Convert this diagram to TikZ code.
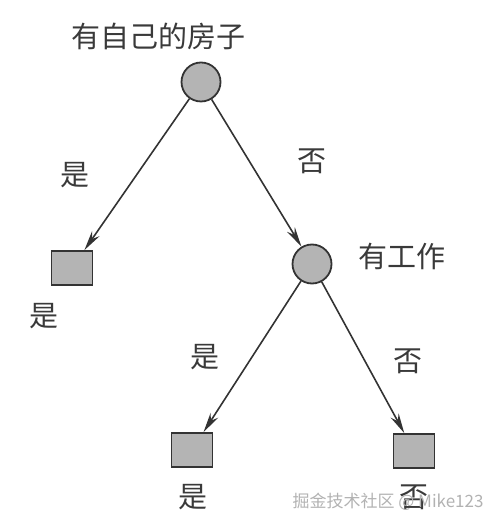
\documentclass[tikz,border=0pt]{standalone}
\usepackage{fontspec}
\setmainfont{Noto Sans CJK SC}
\usetikzlibrary{arrows.meta}
\definecolor{cNode}{HTML}{B4B4B4}
\definecolor{cLine}{HTML}{333333}
\definecolor{cText}{HTML}{3A3A3A}

\begin{document}
\begin{tikzpicture}[x=0.5pt,y=-0.5pt,>={Stealth[length=10pt,width=4.5pt]},
  font=\fontsize{14.5pt}{16pt}\selectfont,text=cText,
  test/.style={circle,draw=cLine,fill=cNode,line width=0.9pt,minimum size=19.5pt,inner sep=0pt},
  leaf/.style={rectangle,draw=cLine,fill=cNode,line width=0.9pt,minimum width=20.5pt,minimum height=17pt,inner sep=0pt},
  edge/.style={->,draw=cLine,line width=0.8pt}]
\useasboundingbox (0,0) rectangle (500,528);
% decision nodes
\node[test] (house) at (201,82) {};
\node at (158,36) {有自己的房子};
\node[test] (job) at (312,264) {};
\node at (402,256) {有工作};
% leaves
\node[leaf] (leafA) at (72,268) {};
\node at (44,316) {是};
\node[leaf] (leafB) at (192,450) {};
\node at (193,497) {是};
\node[leaf] (leafC) at (414,451) {};
\node at (414,497) {否};
% connectors
\draw[edge] (house)--(leafA);
\draw[edge] (house)--(job);
\draw[edge] (job)--(leafB);
\draw[edge] (job)--(leafC);
\node at (75,175) {是};
\node at (312,161) {否};
\node at (205,357) {是};
\node at (408,361) {否};
% watermark
\node[text=gray!60,font=\fontsize{8.5pt}{10pt}\selectfont] at (388,502) {掘金技术社区 @ Mike123};
\end{tikzpicture}
\end{document}
